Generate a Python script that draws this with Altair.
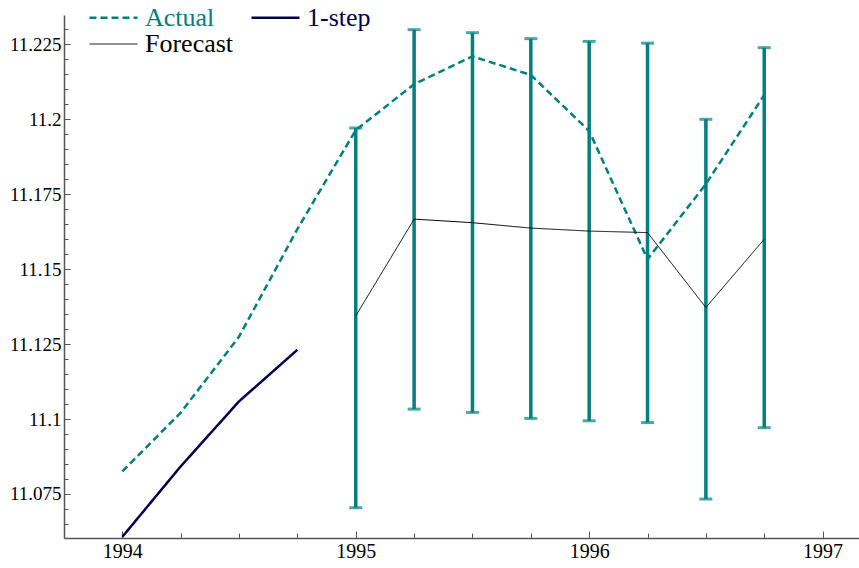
import altair as alt
import pandas as pd

# ---- data ----
actual_t = [1994.0, 1994.25, 1994.5, 1994.75, 1995.0, 1995.25, 1995.5, 1995.75,
            1996.0, 1996.25, 1996.5, 1996.75]
actual = [11.0825, 11.1021, 11.1275, 11.1634, 11.1964, 11.2117, 11.2210, 11.2148,
          11.1961, 11.1533, 11.1784, 11.2081]

onestep_t = [1994.0, 1994.25, 1994.5, 1994.75]
onestep = [11.0607, 11.0842, 11.1059, 11.1231]

fc_t = [1995.0, 1995.25, 1995.5, 1995.75, 1996.0, 1996.25, 1996.5, 1996.75]
forecast = [11.1344, 11.1667, 11.1655, 11.1637, 11.1627, 11.1622, 11.1372, 11.1600]
err_hi = [11.1971, 11.2299, 11.2289, 11.2269, 11.2260, 11.2254, 11.2000, 11.2239]
err_lo = [11.0704, 11.1033, 11.1022, 11.1002, 11.0994, 11.0988, 11.0733, 11.0971]

# legend is laid out column-major: Actual / Forecast in column 1, 1-step in column 2
series_order = ["Actual", "Forecast", "1-step"]
series_colors = ["#008080", "#000000", "#000050"]
series_dash = [[7, 4], [1, 0], [1, 0]]
series_width = [2.5, 1, 2.5]

x_major = [1994, 1995, 1996, 1997]
x_minor = [1993.75 + 0.25 * i for i in range(14)]
y_major = [11.075, 11.1, 11.125, 11.15, 11.175, 11.2, 11.225]
y_minor = [i / 1000 for i in range(11065, 11235, 5)]

TEAL = "#008080"
FONT = "Liberation Serif"
AXC = "#555555"

rows = []
for t, v in zip(actual_t, actual):
    rows.append({"t": t, "v": v, "series": "Actual"})
for t, v in zip(onestep_t, onestep):
    rows.append({"t": t, "v": v, "series": "1-step"})
for t, v in zip(fc_t, forecast):
    rows.append({"t": t, "v": v, "series": "Forecast"})
lines_df = pd.DataFrame(rows)
err_df = pd.DataFrame({"t": fc_t, "lo": err_lo, "hi": err_hi})

xscale = alt.Scale(domain=[1993.75, 1997.156], nice=False, zero=False)
yscale = alt.Scale(domain=[11.0603, 11.2348], nice=False, zero=False)

x_major_axis = alt.Axis(
    values=x_major, title=None, grid=False, orient="bottom",
    labelExpr="toString(datum.value)",
    tickSize=alt.ExprRef(expr="-7"), tickColor=AXC, tickWidth=1,
    domainColor=AXC, domainWidth=1.5,
    labelPadding=10, labelFont=FONT, labelFontSize=20, labelColor="#000000",
)
x_minor_axis = alt.Axis(
    values=x_minor, title=None, grid=False, orient="bottom", labels=False, domain=False,
    tickSize=alt.ExprRef(expr="-5"), tickColor=AXC, tickWidth=1,
)
y_major_axis = alt.Axis(
    values=y_major, title=None, grid=False, orient="left",
    labelExpr="toString(round(datum.value * 1000) / 1000)",
    tickSize=alt.ExprRef(expr="-6"), tickColor=AXC, tickWidth=1,
    domainColor=AXC, domainWidth=1.5,
    labelPadding=9, labelFont=FONT, labelFontSize=19, labelColor="#000000",
)
y_minor_axis = alt.Axis(
    values=y_minor, title=None, grid=False, orient="left", labels=False, domain=False,
    tickSize=alt.ExprRef(expr="-4"), tickColor=AXC, tickWidth=1,
)

legend = alt.Legend(
    title=None, orient="none", legendX=36, legendY=-11, columns=2,
    symbolType="M-2,0H2", symbolSize=576, labelFont=FONT, labelFontSize=26,
    labelColor=alt.ExprRef(
        expr="datum.label == 'Actual' ? '#008080' : (datum.label == '1-step' ? '#000050' : '#000000')"
    ),
    columnPadding=12, rowPadding=-1, labelOffset=18, padding=0,
)

rules = alt.Chart(err_df).mark_rule(color=TEAL, strokeWidth=3.5).encode(
    x=alt.X("t:Q", scale=xscale, axis=x_major_axis),
    y=alt.Y("lo:Q", scale=yscale, axis=y_major_axis),
    y2="hi:Q",
)
caps_hi = alt.Chart(err_df).mark_tick(color=TEAL, orient="horizontal", size=13, thickness=3).encode(
    x=alt.X("t:Q", scale=xscale, axis=x_minor_axis),
    y=alt.Y("hi:Q", scale=yscale, axis=y_minor_axis),
)
caps_lo = alt.Chart(err_df).mark_tick(color=TEAL, orient="horizontal", size=13, thickness=3).encode(
    x=alt.X("t:Q", scale=xscale, axis=None), y=alt.Y("lo:Q", scale=yscale, axis=None)
)

lines = alt.Chart(lines_df).mark_line().encode(
    x=alt.X("t:Q", scale=xscale, axis=None),
    y=alt.Y("v:Q", scale=yscale, axis=None),
    color=alt.Color("series:N", scale=alt.Scale(domain=series_order, range=series_colors), legend=legend),
    strokeDash=alt.StrokeDash("series:N", scale=alt.Scale(domain=series_order, range=series_dash), legend=legend),
    strokeWidth=alt.StrokeWidth("series:N", scale=alt.Scale(type="ordinal", domain=series_order, range=series_width), legend=legend),
)

chart = alt.layer(rules, caps_hi, caps_lo, lines).resolve_axis(
    x="independent", y="independent"
).properties(
    width=795, height=523,
    padding={"left": 64, "top": 15, "right": 0, "bottom": 30},
    autosize=alt.AutoSizeParams(type="none"),
    background="white",
).configure_view(stroke=None)

chart.save("out.html", embed_options={"renderer": "svg", "actions": False})
